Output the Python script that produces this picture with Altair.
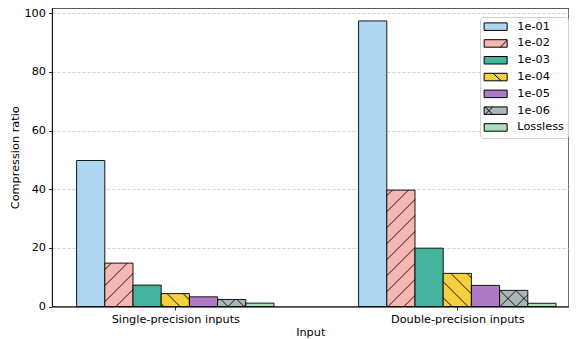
import altair as alt
import pandas as pd

# ---- data ----
groups = ["Single-precision inputs", "Double-precision inputs"]
settings = ["1e-01", "1e-02", "1e-03", "1e-04", "1e-05", "1e-06", "Lossless"]
single_vals = [49.8, 14.8, 7.3, 4.4, 3.3, 2.4, 1.15]
double_vals = [97.4, 39.7, 19.9, 11.3, 7.2, 5.5, 1.1]
colors = ["#AED6F1", "#F5B7B1", "#45B39D", "#F4D03F", "#AF7AC5", "#AAB7B8", "#A9DFBF"]
hatches = ["", "/", "", "\\", "", "x", ""]
y_ticks = [0, 20, 40, 60, 80, 100]

# ---- layout / style ----
PAD_L = 44
W, H = 516.5, 298.5
PX_PER_X = 282.0
XMIN = -(175.3 - (8 + PAD_L)) / PX_PER_X
XMAX = XMIN + W / PX_PER_X
YMAX = H / 2.932
BAR_W = 0.1
HATCH_SP = 16.0
FONT = "DejaVu Sans"
FS = 11.3

rows = []
for gi, (g, vals) in enumerate(zip(groups, [single_vals, double_vals])):
    for si, (s, v) in enumerate(zip(settings, vals)):
        rows.append({"group": g, "gi": gi, "setting": s, "si": si, "value": v})
df = pd.DataFrame(rows)

# hatch segments derived from the bar geometry (clipped to each bar)
sx = W / (XMAX - XMIN)
sy = H / YMAX
seg = []
for r in rows:
    h = hatches[r["si"]]
    if not h:
        continue
    left = r["gi"] + (r["si"] - 3) * BAR_W - BAR_W / 2
    right = left + BAR_W
    Lp, Rp, Tp = (left - XMIN) * sx, (right - XMIN) * sx, r["value"] * sy
    fams = []
    if h in ("/", "x"):
        fams.append(1)
    if h in ("\\", "x"):
        fams.append(-1)
    for f in fams:
        for k in range(-80, 120):
            c = k * HATCH_SP
            if f == 1:  # y = x + c
                a, b = max(Lp, -c), min(Rp, Tp - c)
                if b - a > 0.5:
                    seg.append({"x": XMIN + a / sx, "y": (a + c) / sy,
                                "x2": XMIN + b / sx, "y2": (b + c) / sy})
            else:  # y = -x + c
                a, b = max(Lp, c - Tp), min(Rp, c)
                if b - a > 0.5:
                    seg.append({"x": XMIN + a / sx, "y": (c - a) / sy,
                                "x2": XMIN + b / sx, "y2": (c - b) / sy})
seg_df = pd.DataFrame(seg)

# legend swatch shapes (rectangle + hatch stroke)
RECT = "M-1.1,-0.75H3.5V0.75H-1.1Z"
hatch_paths = {"": "", "/": "M2.1,0.75L3.5,-0.6",
               "\\": "M0.7,-0.75L2.3,0.75",
               "x": "M-0.9,-0.75L0.6,0.75M-0.9,0.75L0.6,-0.75"}
shapes = [RECT + hatch_paths[h] for h in hatches]
edge_colors = ["black"] * len(settings)

x_scale = alt.Scale(domain=[XMIN, XMAX], nice=False, zero=False)
y_scale = alt.Scale(domain=[0, YMAX], nice=False)

label_expr = f"datum.value == 0 ? '{groups[0]}' : '{groups[1]}'"
x_axis = alt.Axis(values=[0, 1], labelExpr=label_expr, grid=False,
                  title="Input", labelFlush=False, labelOverlap=False)
y_axis = alt.Axis(values=y_ticks, title="Compression ratio", grid=True,
                  gridDash=[3, 2], gridColor="#bfbfbf", gridWidth=0.7)

bars = alt.Chart(df).transform_calculate(
    x_left=f"datum.gi + (datum.si - 3) * {BAR_W} - {BAR_W / 2}",
    x_right=f"datum.gi + (datum.si - 3) * {BAR_W} + {BAR_W / 2}",
    zero="0",
).mark_rect(stroke="black", strokeWidth=0.9).encode(
    x=alt.X("x_left:Q", scale=x_scale, axis=x_axis),
    x2="x_right:Q",
    y=alt.Y("value:Q", scale=y_scale, axis=y_axis),
    y2="zero:Q",
    color=alt.Color("setting:N", scale=alt.Scale(domain=settings, range=colors),
                    legend=None),
)

hatch_layer = alt.Chart(seg_df).mark_rule(color="black", strokeWidth=0.9).encode(
    x=alt.X("x:Q", scale=x_scale, axis=x_axis),
    y=alt.Y("y:Q", scale=y_scale, axis=y_axis),
    x2="x2:Q",
    y2="y2:Q",
)

leg = alt.Legend(title=None, orient="none", legendX=428, legendY=9,
                 symbolStrokeWidth=1)
legend_layer = alt.Chart(df).transform_filter("false").mark_point(
    filled=True, opacity=1, strokeWidth=1, size=100
).encode(
    fill=alt.Fill("setting:N", scale=alt.Scale(domain=settings, range=colors),
                  legend=leg),
    stroke=alt.Stroke("setting:N", scale=alt.Scale(domain=settings, range=edge_colors),
                      legend=leg),
    shape=alt.Shape("setting:N", scale=alt.Scale(domain=settings, range=shapes),
                    legend=leg),
)

chart = alt.layer(bars, hatch_layer, legend_layer).resolve_scale(
    color="independent", fill="independent", stroke="independent",
    shape="independent"
).resolve_legend(
    color="independent", fill="independent", stroke="independent",
    shape="independent"
).properties(
    width=W, height=H,
    autosize=alt.AutoSizeParams(type="none"),
    padding={"left": PAD_L, "top": 0, "right": 0, "bottom": 32},
).configure_view(
    stroke="black", strokeWidth=0.8,
).configure_axis(
    labelFont=FONT, labelFontSize=FS, labelColor="black",
    titleFont=FONT, titleFontSize=FS, titleFontWeight="normal", titleColor="black",
    tickColor="black", tickSize=3.5, tickWidth=0.8,
    domainColor="black", domainWidth=0.8, labelPadding=3,
).configure_axisY(
    titlePadding=3,
).configure_axisX(
    titlePadding=2,
).configure_legend(
    labelFont=FONT, labelFontSize=FS, labelColor="black",
    symbolSize=100, symbolStrokeWidth=1,
    symbolOpacity=1, padding=4, rowPadding=3.8, labelOffset=22,
    strokeColor="#d0d0d0", fillColor="rgba(255,255,255,0.8)", cornerRadius=3,
)

chart.save("out.html", embed_options={"renderer": "svg", "actions": False})
